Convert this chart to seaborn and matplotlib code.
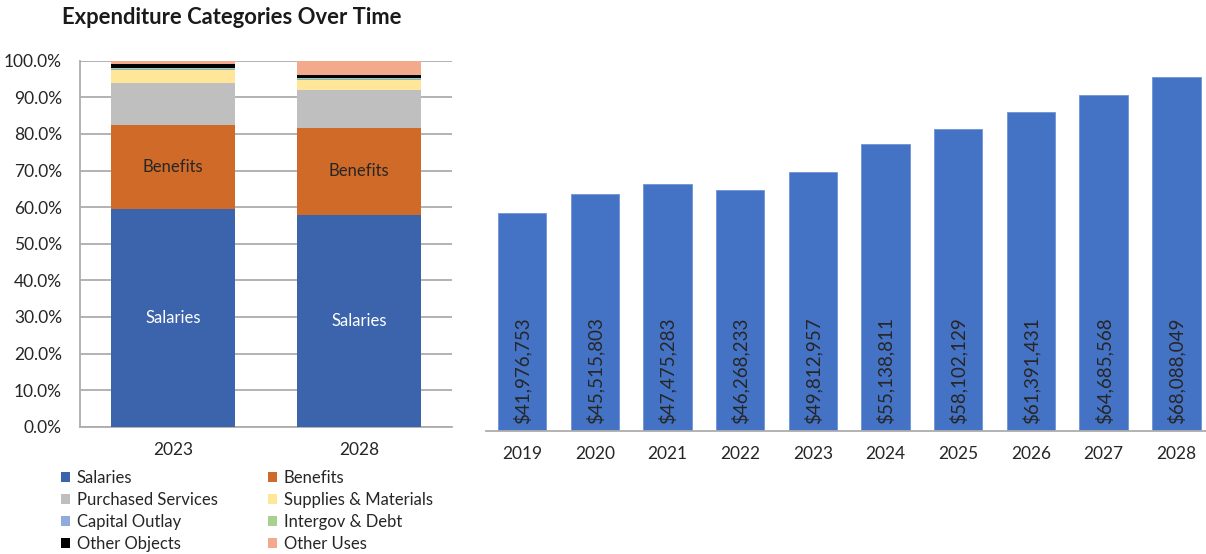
import matplotlib
matplotlib.use("Agg")
import matplotlib.pyplot as plt
from matplotlib.patches import Patch
from matplotlib.ticker import FixedLocator, FuncFormatter
import pandas as pd
import seaborn as sns

# --- left panel: spending mix, percent of total ---
MIX_YEARS = ["2023", "2028"]
CATEGORIES = [
    "Salaries",
    "Benefits",
    "Purchased Services",
    "Supplies & Materials",
    "Capital Outlay",
    "Intergov & Debt",
    "Other Objects",
    "Other Uses",
]
SALARIES = [59.6, 57.9]
BENEFITS = [22.9, 23.8]
PURCHASED = [11.4, 10.2]
SUPPLIES = [3.6, 2.9]
CAPITAL = [0.3, 0.3]
INTERGOV = [0.1, 0.1]
OTHER_OBJECTS = [1.2, 1.0]
OTHER_USES = [0.9, 3.8]

CAT_COLORS = [
    "#3B64AD",
    "#D06A28",
    "#BFBFBF",
    "#FFE699",
    "#8FAADC",
    "#A9D18E",
    "#000000",
    "#F2A98C",
]

# --- right panel: total expenditure by year ---
TREND_YEARS = ["2019", "2020", "2021", "2022", "2023", "2024", "2025", "2026", "2027", "2028"]
TOTALS = [
    41976753, 45515803, 47475283, 46268233, 49812957,
    55138811, 58102129, 61391431, 64685568, 68088049,
]
BAR_COLOR = "#4472C4"

GRID = "#ADADAD"
TEXT = "#262626"


def plot_mix(ax):
    shares = [SALARIES, BENEFITS, PURCHASED, SUPPLIES, CAPITAL, INTERGOV, OTHER_OBJECTS, OTHER_USES]
    df = pd.DataFrame({"year": MIX_YEARS})
    running = [0.0, 0.0]
    for cat, vals in zip(CATEGORIES, shares):
        running = [r + v for r, v in zip(running, vals)]
        df[cat] = running
    # tallest cumulative first so each lower segment paints over it
    for cat, color in reversed(list(zip(CATEGORIES, CAT_COLORS))):
        sns.barplot(data=df, x="year", y=cat, color=color, width=0.667,
                    saturation=1, errorbar=None, ax=ax, zorder=3, linewidth=0)

    for i in range(len(MIX_YEARS)):
        ax.text(i, SALARIES[i] / 2, "Salaries", color="white", ha="center",
                va="center", fontsize=12, zorder=5)
        ax.text(i, SALARIES[i] + BENEFITS[i] / 2, "Benefits", color=TEXT,
                ha="center", va="center", fontsize=12, zorder=5)

    ax.set_xlim(-0.5, 1.5)
    ax.set_ylim(0, 100)
    ax.set_yticks(range(0, 101, 10))
    ax.yaxis.set_major_formatter(FuncFormatter(lambda v, _: f"{v:.1f}%"))
    ax.yaxis.grid(True, color=GRID, linewidth=1.3, zorder=0)
    ax.set_axisbelow(True)
    ax.xaxis.set_minor_locator(FixedLocator([-0.5, 0.5, 1.5]))
    ax.tick_params(axis="x", which="major", length=0, pad=11, labelsize=12.5, colors=TEXT)
    ax.tick_params(axis="x", which="minor", length=6, color=GRID, width=1.3)
    ax.tick_params(axis="y", length=5, color=GRID, width=1.3, pad=8, labelsize=12.5, colors=TEXT)
    ax.set_xlabel("")
    ax.set_ylabel("")
    for side in ("top", "right"):
        ax.spines[side].set_visible(False)
    for side in ("left", "bottom"):
        ax.spines[side].set_color(GRID)
        ax.spines[side].set_linewidth(1.3)


def plot_totals(ax):
    df = pd.DataFrame({"year": TREND_YEARS, "total": TOTALS})
    sns.barplot(data=df, x="year", y="total", color=BAR_COLOR, width=0.665,
                saturation=1, errorbar=None, ax=ax, edgecolor="#6E93D6", linewidth=0.6)
    for i, v in enumerate(TOTALS):
        ax.text(i, 1.3e6, f"${v:,}", rotation=90, ha="center", va="bottom",
                fontsize=13.5, color=TEXT)

    ax.set_xlim(-0.5, len(TREND_YEARS) - 0.5)
    ax.set_ylim(0, 70e6)
    ax.set_yticks([])
    ax.xaxis.set_minor_locator(FixedLocator([i - 0.5 for i in range(len(TREND_YEARS) + 1)]))
    ax.tick_params(axis="x", which="major", length=0, pad=11, labelsize=12.5, colors=TEXT)
    ax.tick_params(axis="x", which="minor", length=6, color=GRID, width=1.3)
    ax.set_xlabel("")
    ax.set_ylabel("")
    for side in ("top", "right", "left"):
        ax.spines[side].set_visible(False)
    ax.spines["bottom"].set_color(GRID)
    ax.spines["bottom"].set_linewidth(1.3)


def main():
    sns.set_style("white")
    plt.rcParams["font.family"] = ["Lato", "DejaVu Sans"]

    W, H = 1206, 554
    fig = plt.figure(figsize=(W / 100, H / 100), dpi=100)
    ax_mix = fig.add_axes([80 / W, 127.3 / H, 372 / W, 366 / H])
    ax_tot = fig.add_axes([485.7 / W, 123.3 / H, 727 / W, 363.6 / H])

    plot_mix(ax_mix)
    plot_totals(ax_tot)

    fig.text(62 / W, 1 - 17 / H, "Expenditure Categories Over Time", ha="left",
             va="center", fontsize=15.8, fontweight="bold", color="#1A1A1A")

    handles = [Patch(facecolor=c, edgecolor="none", label=l) for l, c in zip(CATEGORIES, CAT_COLORS)]
    ordered = handles[0::2] + handles[1::2]
    fig.legend(handles=ordered, ncol=2, loc="upper left", bbox_to_anchor=(61 / W, 1 - 470 / H),
               frameon=False, fontsize=12, handlelength=0.55, handleheight=0.55,
               handletextpad=0.4, labelspacing=0.36, columnspacing=3.0, borderpad=0,
               borderaxespad=0, labelcolor=TEXT)

    fig.savefig("out.png", dpi=100)
    plt.close(fig)


if __name__ == "__main__":
    main()
